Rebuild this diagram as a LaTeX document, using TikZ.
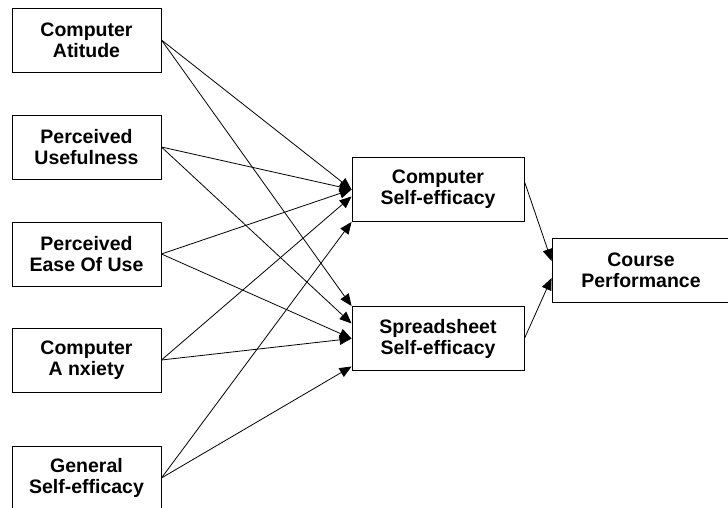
\documentclass[tikz,border=0pt]{standalone}
\usepackage{fontspec}
\setmainfont{Liberation Sans}
\usetikzlibrary{arrows.meta}
\begin{document}
\begin{tikzpicture}[x=1pt,y=-1pt,
  box/.style={draw=black, line width=0.9pt, fill=white, align=center, inner sep=0pt,
    font=\bfseries\fontsize{19.5}{21}\selectfont},
  srcbox/.style={box, minimum width=149pt, minimum height=64pt},
  midbox/.style={box, minimum width=172pt, minimum height=64pt},
  link/.style={line width=0.8pt, -{Triangle[length=12pt,width=10pt]}}]
  \useasboundingbox (0,0) rectangle (728,508);

  % factor boxes on the left
  \node[srcbox] (att) at (86.5,40)  {Computer\\Atitude};
  \node[srcbox] (use) at (86.5,147) {Perceived\\Usefulness};
  \node[srcbox] (ease) at (86.5,254) {Perceived\\Ease Of Use};
  \node[srcbox] (anx) at (86.5,360) {Computer\\A nxiety};
  \node[srcbox] (gen) at (86.5,478) {General\\Self-efficacy};

  % self-efficacy boxes
  \node[midbox] (cse) at (438,189.5) {Computer\\Self-efficacy};
  \node[midbox] (sse) at (438,338.5) {Spreadsheet\\Self-efficacy};

  % outcome
  \node[box, minimum width=178pt, minimum height=64pt] (perf) at (641,270) {Course\\Performance};

  % paths to computer self-efficacy
  \draw[link] (att.east) -- (cse.west);
  \draw[link] (use.east) -- (cse.west);
  \draw[link] (ease.east) -- (cse.west);
  \draw[link] (anx.east) -- ([yshift=-7pt]cse.west);
  \draw[link] (gen.east) -- (cse.south west);

  % paths to spreadsheet self-efficacy
  \draw[link] (att.east) -- (sse.north west);
  \draw[link] (use.east) -- ([yshift=15pt]sse.west);
  \draw[link] (ease.east) -- (sse.west);
  \draw[link] (anx.east) -- (sse.west);
  \draw[link] (gen.east) -- ([yshift=-28pt]sse.west);

  % paths to course performance
  \draw[link] ([yshift=8pt]cse.east) -- ([yshift=9pt]perf.west);
  \draw[link] (sse.east) -- ([yshift=-8pt]perf.west);
\end{tikzpicture}
\end{document}
